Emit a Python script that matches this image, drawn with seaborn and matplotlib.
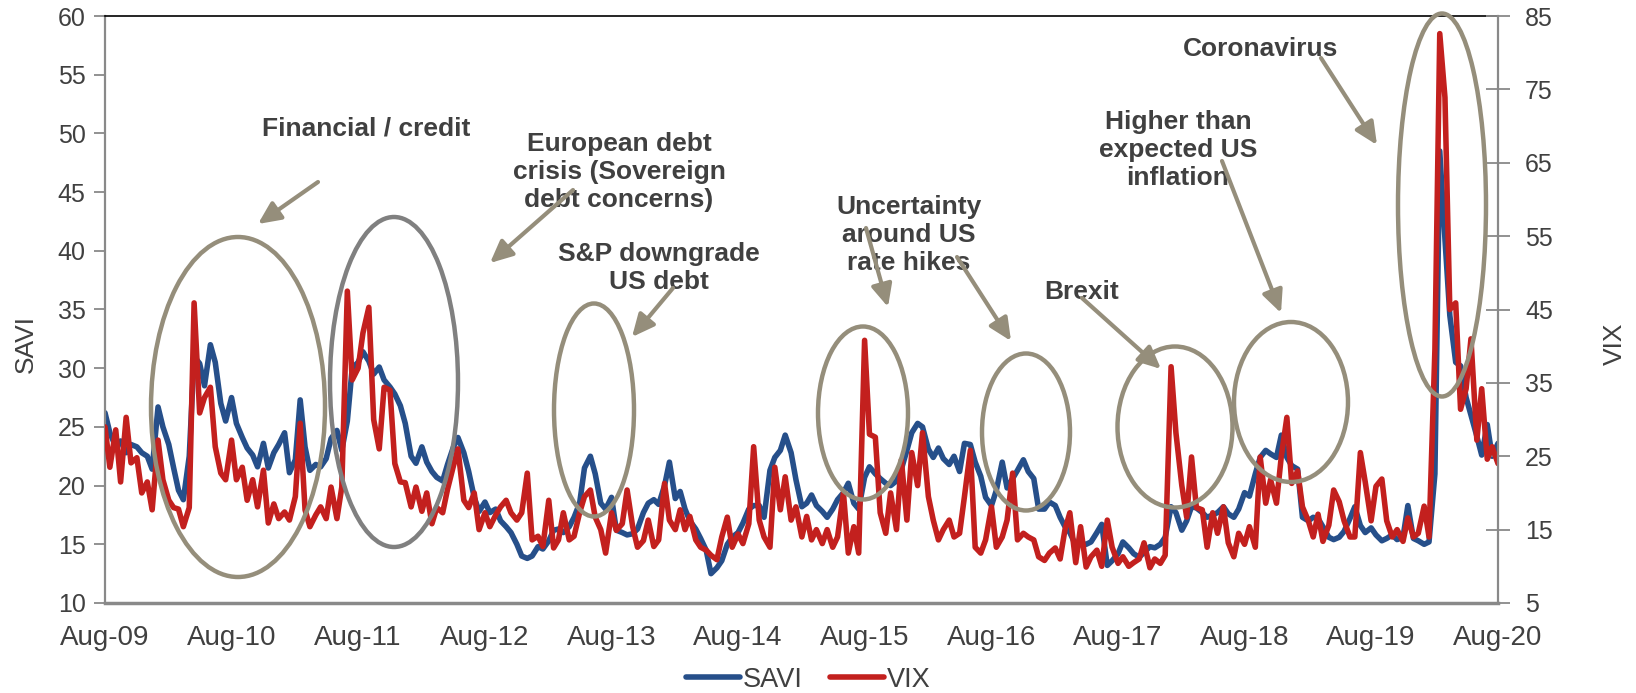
# SAVI vs VIX with event annotations
import numpy as np
import pandas as pd
import matplotlib
matplotlib.use("Agg")
import matplotlib.pyplot as plt
import matplotlib.dates as mdates
from matplotlib.patches import Ellipse
import seaborn as sns

# semi-monthly readings, Aug-09 .. Aug-20 (one row per year)
savi = [
    26.2, 24.5, 23.3, 23.8, 22.8, 23.5, 23.3, 22.8, 22.5, 21.4, 26.7, 25.0, 23.5, 21.5, 19.6, 18.8, 22.5, 31.0, 30.4, 28.5, 32.0, 30.5, 27.0, 25.5,
    27.5, 25.3, 24.1, 23.2, 22.6, 21.6, 23.6, 21.5, 22.8, 23.5, 24.5, 21.1, 22.2, 27.3, 23.3, 21.3, 21.8, 21.6, 22.3, 24.0, 24.7, 23.0, 25.5, 30.0,
    30.5, 31.4, 30.6, 29.5, 30.1, 29.0, 28.4, 27.8, 26.8, 25.3, 22.5, 21.9, 23.3, 22.0, 21.2, 20.7, 20.4, 21.8, 23.2, 24.1, 22.8, 21.2, 19.0, 17.8,
    18.6, 17.7, 18.0, 17.0, 16.5, 16.0, 15.0, 14.0, 13.8, 14.0, 14.8, 14.6, 15.3, 16.2, 16.3, 16.0, 16.5, 17.3, 18.5, 21.5, 22.5, 21.0, 18.5, 18.0,
    19.0, 16.2, 16.0, 15.8, 15.9, 16.3, 17.7, 18.5, 18.8, 18.4, 20.0, 22.0, 18.9, 19.5, 18.0, 17.0, 16.3, 15.5, 14.5, 12.5, 13.0, 13.6, 15.0, 15.6,
    16.0, 16.8, 18.0, 18.3, 18.3, 17.3, 21.3, 22.4, 23.0, 24.3, 22.8, 20.5, 18.2, 18.5, 19.2, 18.3, 17.8, 17.3, 18.0, 18.8, 19.4, 20.2, 18.5, 18.0,
    20.7, 21.6, 21.0, 20.6, 20.2, 20.0, 20.4, 21.4, 23.0, 24.5, 25.3, 25.0, 23.1, 22.4, 23.2, 22.3, 21.8, 22.5, 21.2, 23.6, 23.5, 22.0, 20.8, 19.0,
    18.3, 19.6, 22.0, 19.8, 20.6, 21.3, 22.2, 21.2, 20.6, 18.0, 18.0, 18.6, 18.3, 17.3, 16.5, 16.0, 14.9, 15.1, 15.0, 15.2, 16.0, 16.7, 13.2, 13.6,
    14.2, 15.2, 14.7, 14.2, 13.9, 14.3, 14.8, 14.7, 15.0, 15.6, 18.2, 17.7, 16.2, 17.0, 18.2, 18.1, 17.7, 17.3, 17.5, 17.7, 18.2, 17.6, 17.3, 18.0,
    19.4, 19.1, 21.0, 22.4, 23.0, 22.7, 22.4, 24.3, 22.4, 21.7, 21.4, 17.3, 17.0, 17.3, 17.2, 16.5, 15.6, 15.4, 15.6, 16.1, 17.2, 18.2, 16.6, 16.0,
    16.4, 15.8, 15.3, 15.5, 15.8, 15.4, 15.6, 18.3, 15.5, 15.3, 15.0, 15.2, 21.0, 48.5, 41.0, 34.5, 30.5, 30.2, 27.5, 26.0, 24.2, 22.6, 25.2, 22.5,
    23.6,
]
vix = [
    29.0, 23.5, 28.6, 21.5, 30.3, 24.1, 24.8, 20.0, 21.5, 17.7, 27.2, 21.8, 19.0, 18.0, 17.8, 15.4, 18.0, 45.9, 30.9, 33.0, 34.4, 26.3, 22.7, 21.8,
    27.2, 21.8, 23.5, 19.0, 21.8, 18.1, 23.1, 15.9, 18.5, 16.5, 17.4, 16.3, 19.5, 29.5, 17.7, 15.4, 17.0, 18.1, 16.5, 20.8, 16.5, 20.8, 47.5, 35.4,
    37.0, 41.8, 45.3, 30.0, 26.0, 34.4, 34.0, 24.0, 21.5, 21.4, 18.1, 20.8, 17.5, 20.0, 15.8, 18.0, 17.3, 20.5, 23.5, 26.0, 19.0, 18.0, 20.0, 15.0,
    17.3, 15.4, 17.0, 18.1, 19.0, 17.3, 16.3, 17.3, 22.7, 13.6, 14.1, 12.7, 19.0, 12.5, 13.6, 17.3, 13.6, 14.1, 17.3, 19.5, 20.4, 16.7, 15.0, 11.8,
    17.3, 14.9, 15.8, 20.4, 15.4, 12.6, 13.5, 16.3, 12.7, 13.6, 21.3, 16.3, 15.0, 17.7, 15.0, 16.8, 13.6, 12.6, 12.2, 11.5, 10.9, 14.0, 16.7, 12.6,
    14.4, 13.1, 15.8, 26.3, 16.3, 14.0, 12.6, 23.5, 17.7, 22.2, 16.3, 18.1, 14.0, 16.8, 13.6, 15.0, 13.1, 15.0, 12.6, 14.0, 20.0, 11.8, 15.4, 11.8,
    40.8, 28.0, 27.6, 17.3, 14.5, 20.0, 15.0, 24.5, 16.3, 25.5, 21.0, 28.2, 19.5, 16.3, 13.6, 15.0, 16.3, 14.0, 14.5, 19.5, 25.8, 12.6, 11.8, 13.6,
    18.1, 12.6, 14.0, 16.3, 22.7, 13.6, 14.5, 14.0, 13.6, 11.3, 10.8, 11.8, 12.5, 11.0, 15.0, 17.3, 10.5, 15.4, 9.9, 11.3, 12.2, 10.0, 16.3, 12.6,
    10.4, 11.3, 10.0, 10.5, 11.0, 13.2, 9.8, 11.0, 10.4, 11.5, 37.2, 28.2, 21.0, 16.7, 24.9, 18.0, 17.7, 12.6, 17.3, 14.5, 18.1, 13.2, 11.3, 14.5,
    13.0, 15.4, 12.6, 24.9, 18.6, 21.8, 18.6, 25.0, 30.3, 21.3, 23.0, 18.1, 16.2, 14.0, 17.1, 13.4, 15.6, 20.4, 18.8, 16.2, 14.0, 14.0, 25.5, 21.5,
    16.2, 20.9, 21.9, 16.2, 14.0, 15.0, 13.4, 16.6, 14.0, 14.5, 18.2, 14.0, 39.5, 82.6, 73.9, 45.0, 45.9, 31.4, 34.2, 41.0, 27.2, 34.2, 24.6, 26.3,
    24.0,
]
dates = pd.date_range("2009-08-01", "2020-08-01", freq="SMS")
year_ticks = pd.date_range("2009-08-01", "2020-08-01", freq="12MS")

df = pd.DataFrame({"date": dates, "SAVI": savi, "VIX": vix})

# annotation layout (pixel positions on the 1636x693 canvas)
events = [
    ("Financial / credit", 366, 129),
    ("European debt\ncrisis (Sovereign\ndebt concerns)", 619, 172),
    ("S&P downgrade\nUS debt", 659, 268),
    ("Uncertainty\naround US\nrate hikes", 909, 235),
    ("Brexit", 1082, 292),
    ("Higher than\nexpected US\ninflation", 1178, 150),
    ("Coronavirus", 1261, 49),
]
arrows = [
    ((318, 182), (258, 224)),
    ((573, 190), (490, 263)),
    ((673, 288), (632, 337)),
    ((866, 228), (888, 307)),
    ((957, 257), (1011, 341)),
    ((1082, 298), (1161, 369)),
    ((1222, 161), (1281, 313)),
    ((1321, 58), (1377, 145)),
]
KHAKI = "#958E7B"
GREY = "#808080"
circles = [
    (238, 407, 174, 340, KHAKI),
    (394, 382, 128, 330, GREY),
    (594, 410, 80, 213, KHAKI),
    (863, 413, 90, 173, KHAKI),
    (1026, 432, 88, 157, KHAKI),
    (1175, 427, 115, 161, KHAKI),
    (1291, 402, 114, 160, KHAKI),
    (1442, 205, 88, 383, KHAKI),
]

sns.set_style("white")
plt.rcParams["font.family"] = ["Liberation Sans", "DejaVu Sans"]

AX_L, AX_R, AX_T, AX_B = 105, 1498, 16, 603
W, H = 1636, 693

def fx(px):
    return (px - AX_L) / (AX_R - AX_L)

def fy(py):
    return (AX_B - py) / (AX_B - AX_T)

fig = plt.figure(figsize=(W / 100, H / 100), dpi=100)
ax = fig.add_axes([AX_L / W, (H - AX_B) / H, (AX_R - AX_L) / W, (AX_B - AX_T) / H])
ax2 = ax.twinx()

sns.lineplot(data=df, x="date", y="SAVI", ax=ax, color="#264F8A", lw=4.0, legend=False)
sns.lineplot(data=df, x="date", y="VIX", ax=ax2, color="#C3201E", lw=4.0, legend=False)

ax.set_xlim(dates[0], dates[-1])
ax.set_ylim(10, 60)
ax.set_yticks(np.arange(10, 61, 5))
ax2.set_ylim(5, 85)
ax2.set_yticks(np.arange(5, 86, 10))
ax.set_xticks(year_ticks)
ax.xaxis.set_major_formatter(mdates.DateFormatter("%b-%y"))

AXC = "#898989"
TXT = "#404040"
for s in ["left", "bottom", "top", "right"]:
    ax2.spines[s].set_visible(False)
ax.spines["right"].set_visible(False)
ax.spines["left"].set_color(AXC)
ax.spines["left"].set_linewidth(1.6)
ax.spines["bottom"].set_color(AXC)
ax.spines["bottom"].set_linewidth(2.5)
ax.spines["top"].set_color("black")
ax.spines["top"].set_linewidth(1.2)
ax2.spines["right"].set_visible(True)
ax2.spines["right"].set_color(AXC)
ax2.spines["right"].set_linewidth(1.6)

ax.tick_params(axis="y", direction="out", length=8, width=1.3, color=AXC,
               labelsize=18, labelcolor=TXT, pad=6)
ax.tick_params(axis="x", direction="out", length=9, width=1.3, color=AXC,
               labelsize=20, labelcolor=TXT, pad=7)
ax2.tick_params(axis="y", direction="inout", length=17, width=1.3, color=AXC,
                labelsize=18, labelcolor=TXT, pad=11)

ax.set_xlabel("")
ax.set_ylabel("SAVI", fontsize=19, color=TXT)
ax2.set_ylabel("VIX", fontsize=19, color=TXT)
ax.yaxis.set_label_coords(fx(38), fy(344))
ax2.yaxis.set_label_coords(fx(1603), fy(344))

for cx, cy, w, h, col in circles:
    ax2.add_patch(Ellipse((fx(cx), fy(cy)), w / (AX_R - AX_L), h / (AX_B - AX_T),
                          transform=ax2.transAxes, fill=False, ec=col, lw=3.2,
                          zorder=6, clip_on=False))

for txt, x, y in events:
    ax2.text(fx(x), fy(y), txt, transform=ax2.transAxes, ha="center", va="center",
             fontsize=19, fontweight="bold", color=TXT, linespacing=1.2, zorder=7)

for (tx, ty), (hx, hy) in arrows:
    ax2.annotate("", xy=(fx(hx), fy(hy)), xytext=(fx(tx), fy(ty)),
                 xycoords="axes fraction", textcoords="axes fraction",
                 arrowprops=dict(arrowstyle="-|>,head_length=0.75,head_width=0.35",
                                 color=KHAKI, lw=3, mutation_scale=18,
                                 shrinkA=0, shrinkB=0),
                 zorder=8)

handles = [ax.get_lines()[0], ax2.get_lines()[0]]
fig.legend(handles, ["SAVI", "VIX"], loc="center", bbox_to_anchor=(0.494, 0.019),
           ncol=2, frameon=False, fontsize=19.5, handlelength=2.0, handletextpad=0.1,
           columnspacing=1.0, labelcolor=TXT)

fig.savefig("out.png", dpi=100)
